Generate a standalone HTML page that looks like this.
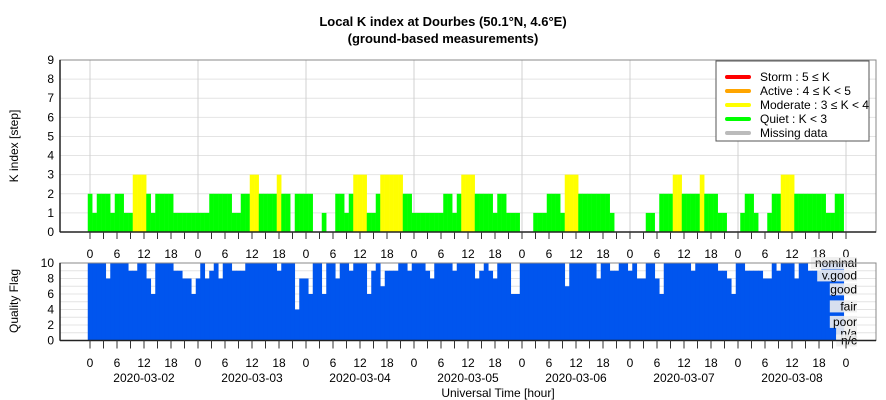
<!DOCTYPE html>
<html><head><meta charset="utf-8">
<style>
html,body{margin:0;padding:0;background:#fff;}
svg{display:block;font-family:"Liberation Sans",sans-serif;}
</style></head>
<body>
<svg id="chart" width="886" height="400" viewBox="0 0 886 400" xmlns="http://www.w3.org/2000/svg">
<text x="443" y="26" text-anchor="middle" font-size="13" font-weight="bold">Local K index at Dourbes (50.1°N, 4.6°E)</text>
<text x="443" y="43" text-anchor="middle" font-size="13" font-weight="bold">(ground-based measurements)</text>
<text transform="translate(18,146) rotate(-90)" text-anchor="middle" font-size="12">K index [step]</text>
<text transform="translate(18,301) rotate(-90)" text-anchor="middle" font-size="12">Quality Flag</text>
<text x="498" y="397" text-anchor="middle" font-size="12">Universal Time [hour]</text>
<g id="topg"></g>
<g id="botg"></g>
<g id="legend">
<rect x="716" y="61" width="153" height="80" fill="#fff" stroke="#555" stroke-width="1"/>
</g>
</svg>
<script>
const days = ["2020-03-02","2020-03-03","2020-03-04","2020-03-05","2020-03-06","2020-03-07","2020-03-08"];
const kTicks = [0,1,2,3,4,5,6,7,8,9];
const qTicks = [0,2,4,6,8,10];
const hourLabels = ["0","6","12","18"];
const kValues = [
2,1,2,2,2,1,2,2,1,1,3,3,3,2,1,2,2,2,2,1,1,1,1,1,1,1,1,2,
2,2,2,2,1,1,2,2,3,3,2,2,2,2,3,2,2,0,2,2,2,2,0,0,1,0,0,2,
2,1,2,3,3,3,1,1,2,3,3,3,3,3,2,2,1,1,1,1,1,1,1,2,2,1,2,3,
3,3,2,2,2,2,1,2,2,1,1,1,0,0,0,1,1,1,2,2,2,1,3,3,3,2,2,2,
2,2,2,2,1,0,0,0,0,0,0,0,1,1,0,2,2,2,3,3,2,2,2,2,3,2,2,2,
1,1,0,0,0,1,2,2,1,0,0,1,2,2,3,3,3,2,2,2,2,2,2,2,1,1,2,2];
const qValues = [
10,10,10,10,8,10,10,10,10,9,9,10,10,8,6,10,10,10,10,9,9,8,8,6,
8,10,8,9,10,8,10,10,9,9,9,10,10,10,10,10,10,10,9,10,10,10,4,8,
8,6,10,10,6,10,10,8,10,10,9,10,10,10,6,9,10,7,9,9,9,10,10,9,
10,10,10,9,8,10,10,10,10,9,10,10,10,10,8,9,10,9,8,10,10,10,6,6,
10,10,10,10,10,10,10,10,10,10,7,10,10,10,10,10,10,8,10,10,9,9,10,10,
9,10,8,8,10,10,8,6,10,10,10,10,10,10,9,10,10,10,10,10,9,9,8,6,
10,10,9,9,9,9,8,8,10,9,10,10,10,8,10,10,9,9,9,10,10,10,10,10];
const qLabels = ["nominal","v.good","good","fair","poor","n/a","n/c"];
const qLabelVals = [10,8.4,6.6,4.4,2.4,0.9,0];
const legendNames = ["Storm : 5 \u2264 K","Active : 4 \u2264 K < 5","Moderate : 3 \u2264 K < 4","Quiet : K < 3","Missing data"];
const legendColors = ["#ff0000","#ffa500","#ffff00","#00ff00","#bbbbbb"];

const NS="http://www.w3.org/2000/svg";
function mk(parent,tag,attrs){const e=document.createElementNS(NS,tag);for(const k in attrs)e.setAttribute(k,attrs[k]);parent.appendChild(e);return e;}
const X0=90, PXH=4.5, L=60, R=876;
const xH = h => X0 + h*PXH;
const kT=60,kB=232, yK = v => kB - v*(kB-kT)/9;
const qT=263,qB=340.5, yQ = v => qB - v*(qB-qT)/10;
function kColor(v){return v>=5?"#ff0000":v>=4?"#ffa500":v>=3?"#ffff00":"#00ff00";}

const gTop=document.getElementById('topg'), gBot=document.getElementById('botg');
kTicks.forEach(t=>{
  const g=mk(gTop,'line',{x1:L,x2:R,y1:yK(t),y2:yK(t),stroke:'#e4e4e4','stroke-width':1});
  
  
  const lb=mk(gTop,'text',{x:L-6,y:yK(t)+4,'text-anchor':'end','font-size':12});
  lb.textContent=t;
  
  
});
for(let d=0;d<=days.length;d++){
  const g=mk(gTop,'line',{x1:xH(d*24),x2:xH(d*24),y1:kT,y2:kB,stroke:'#d0d0d0','stroke-width':1});
  
  
}
kValues.forEach((v,h)=>{
  if(v<=0)return;
  const r=mk(gTop,'rect',{x:xH(h)-PXH/2,y:yK(v),width:PXH+0.2,height:kB-yK(v),fill:kColor(v)});
  
  
});
mk(gTop,'rect',{x:L,y:kT,width:R-L,height:kB-kT,fill:'none',stroke:'#888','stroke-width':1});
mk(gTop,'line',{x1:L,x2:R,y1:kB,y2:kB,stroke:'#222','stroke-width':1.5});
for(let t=0;t<=10;t++){
  const g=mk(gBot,'line',{x1:L,x2:R,y1:yQ(t),y2:yQ(t),stroke:'#e4e4e4','stroke-width':1});
  
  
}
qTicks.forEach(t=>{
  const lb=mk(gBot,'text',{x:L-6,y:yQ(t)+4,'text-anchor':'end','font-size':12});
  lb.textContent=t;
  
  
});
qValues.forEach((v,h)=>{
  const r=mk(gBot,'rect',{x:xH(h)-PXH/2,y:yQ(v),width:PXH+0.3,height:qB-yQ(v),fill:'#0055ee'});
  
  
});
qLabels.forEach((s,i)=>{
  const y=yQ(qLabelVals[i]);
  const w=s.length*6.3+2;
  const bg=mk(gBot,'rect',{x:857-w,y:y-6,width:w,height:12,fill:'#eeeeee','fill-opacity':0.9});
  
  
  const t=mk(gBot,'text',{x:857,y:y+4,'text-anchor':'end','font-size':12});
  t.textContent=s;
  
  
});
mk(gBot,'rect',{x:L,y:qT,width:R-L,height:qB-qT,fill:'none',stroke:'#888','stroke-width':1});
mk(gBot,'line',{x1:L,x2:R,y1:qB,y2:qB,stroke:'#222','stroke-width':1.5});
mk(gBot,'line',{x1:L,x2:L,y1:qT,y2:qB,stroke:'#222','stroke-width':1.5});
mk(gTop,'line',{x1:L,x2:L,y1:kT,y2:kB,stroke:'#222','stroke-width':1.5});
for(let h=0;h<=days.length*24;h+=3){
  mk(gTop,'line',{x1:xH(h),x2:xH(h),y1:kB,y2:kB+7,stroke:'#333','stroke-width':1});
  mk(gBot,'line',{x1:xH(h),x2:xH(h),y1:qB,y2:qB+8,stroke:'#333','stroke-width':1});
  if(h%6===0){
    const s=hourLabels[(h/6)%4];
    const a=mk(gTop,'text',{x:xH(h),y:258,'text-anchor':'middle','font-size':12});
    a.textContent=s;
    
    
    const b=mk(gBot,'text',{x:xH(h),y:367,'text-anchor':'middle','font-size':12});
    b.textContent=s;
    
    
  }
}
days.forEach((d,i)=>{
  const t=mk(gBot,'text',{x:xH(i*24+12),y:382,'text-anchor':'middle','font-size':12});
  t.textContent=d;
  
  
});
const lg=document.getElementById('legend');
legendNames.forEach((s,i)=>{
  const y=77+i*14;
  const l=mk(lg,'line',{x1:727,x2:749,y1:y,y2:y,stroke:legendColors[i],'stroke-width':4,'stroke-linecap':'round'});
  
  
  const t=mk(lg,'text',{x:760,y:y+4,'font-size':12});
  t.textContent=s;
  
  
});
</script>
</body></html>
